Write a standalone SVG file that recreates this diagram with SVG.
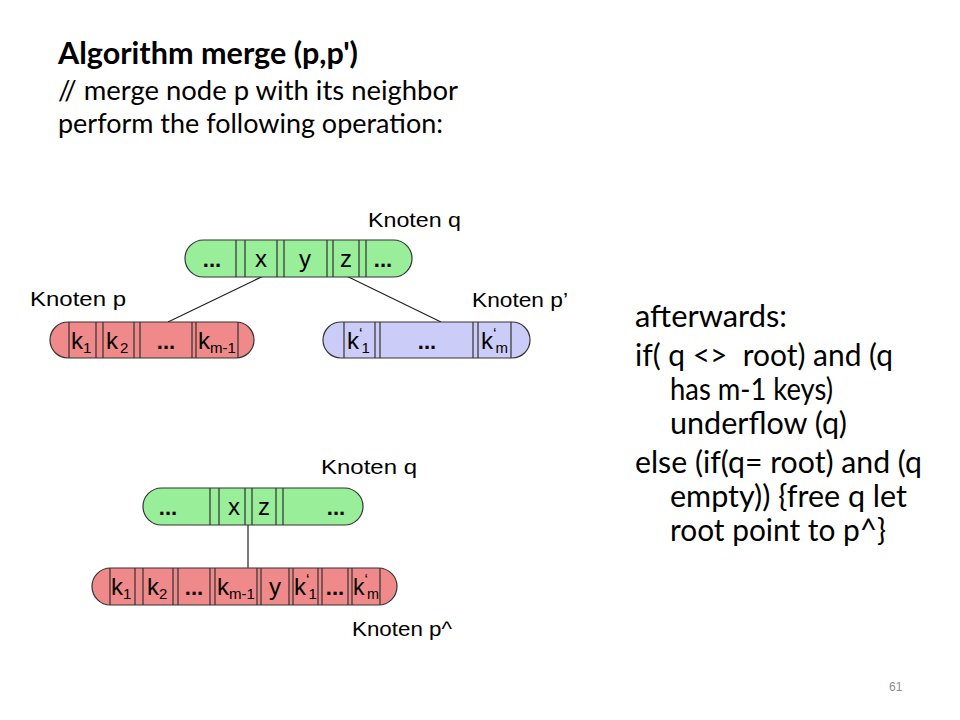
<svg xmlns="http://www.w3.org/2000/svg" width="960" height="720" viewBox="0 0 960 720">
<style>
.bg{fill:#ffffff}
.slide{font-family:Lato,"Open Sans","Liberation Sans",sans-serif;fill:#000}
.ttl{font-size:31px;font-weight:bold}
.sub{font-size:27px}
.body{font-size:30px;white-space:pre}
.lbl{font-family:"Liberation Sans",Arial,sans-serif;font-size:21px;fill:#000}
.nt{font-family:"Liberation Sans",Arial,sans-serif;font-size:24px;fill:#000}
.dots{font-family:"Liberation Sans",Arial,sans-serif;font-size:22px;font-weight:bold;fill:#000;text-anchor:middle}
.mid{text-anchor:middle}
.sm{font-size:15px}
.pr{font-size:16px}
.green{fill:#99ee99;stroke:#333;stroke-width:1.2}
.red{fill:#f08a8a;stroke:#333;stroke-width:1.2}
.blue{fill:#ccccf8;stroke:#333;stroke-width:1.2}
.sep{stroke:#333;stroke-width:1.2;fill:none}
.conn{stroke:#222;stroke-width:1.2;fill:none}
.pg{font-family:"Liberation Sans",Arial,sans-serif;font-size:12px;fill:#8c8c8c}
</style>
<rect class="bg" x="0" y="0" width="960" height="720"/>

<g id="title" class="slide">
<text class="ttl" x="58" y="64" textLength="300" lengthAdjust="spacingAndGlyphs">Algorithm merge (p,p')</text>
<text class="sub" x="58" y="100" textLength="400" lengthAdjust="spacingAndGlyphs">// merge node p with its neighbor</text>
<text class="sub" x="58" y="133" textLength="385" lengthAdjust="spacingAndGlyphs">perform the following operation:</text>
</g>

<g id="text-afterwards" class="slide">
<text class="body" x="635" y="327" textLength="152" lengthAdjust="spacingAndGlyphs">afterwards:</text>
<text class="body" x="635" y="366" textLength="258" lengthAdjust="spacingAndGlyphs">if( q &lt;&gt;  root) and (q</text>
<text class="body" x="670" y="400" textLength="163" lengthAdjust="spacingAndGlyphs">has m-1 keys)</text>
<text class="body" x="670" y="434" textLength="177" lengthAdjust="spacingAndGlyphs">underflow (q)</text>
<text class="body" x="635" y="473" textLength="287" lengthAdjust="spacingAndGlyphs">else (if(q= root) and (q</text>
<text class="body" x="670" y="507" textLength="237" lengthAdjust="spacingAndGlyphs">empty)) {free q let</text>
<text class="body" x="670" y="541" textLength="216" lengthAdjust="spacingAndGlyphs">root point to p^}</text>
</g>

<g id="connectors">
<line class="conn" x1="280" y1="268" x2="168" y2="322"/>
<line class="conn" x1="330" y1="268" x2="441" y2="322"/>
<line class="conn" x1="248" y1="525" x2="248" y2="568"/>
</g>

<g id="node-q">
<rect class="green" x="185" y="240" width="227" height="37" rx="18.5"/>
<path class="sep" d="M236 240V277M245 240V277M277 240V277M284 240V277M327 240V277M333 240V277M359 240V277M366 240V277"/>
<text class="dots" x="212" y="267">...</text>
<text class="nt mid" x="261" y="267">x</text>
<text class="nt mid" x="305" y="267">y</text>
<text class="nt mid" x="346" y="267">z</text>
<text class="dots" x="383" y="267">...</text>
<text class="lbl" x="368" y="227" textLength="93" lengthAdjust="spacingAndGlyphs">Knoten q</text>
</g>

<g id="node-p">
<rect class="red" x="50" y="322" width="204" height="36" rx="18"/>
<path class="sep" d="M69 322V358M96 322V358M103 322V358M134 322V358M140 322V358M192 322V358M196 322V358M238 322V358"/>
<text class="nt" x="71" y="349">k<tspan class="sm" dy="4">1</tspan></text>
<text class="nt" x="106" y="349">k<tspan class="sm" dx="2" dy="4">2</tspan></text>
<text class="dots" x="166" y="349">...</text>
<text class="nt" x="198" y="349" textLength="38" lengthAdjust="spacingAndGlyphs">k<tspan class="sm" dy="4">m-1</tspan></text>
<text class="lbl" x="30" y="306" textLength="96" lengthAdjust="spacingAndGlyphs">Knoten p</text>
</g>

<g id="node-p2">
<rect class="blue" x="323" y="322" width="207" height="36" rx="18"/>
<path class="sep" d="M344 322V358M375 322V358M380 322V358M473 322V358M478 322V358M511 322V358"/>
<text class="nt" x="347" y="349">k<tspan class="pr" dy="-9">‘</tspan><tspan class="sm" dx="-1" dy="13">1</tspan></text>
<text class="dots" x="427" y="349">...</text>
<text class="nt" x="481" y="349">k<tspan class="pr" dy="-9">‘</tspan><tspan class="sm" dx="-1" dy="13">m</tspan></text>
<text class="lbl" x="472" y="307" textLength="96" lengthAdjust="spacingAndGlyphs">Knoten p’</text>
</g>

<g id="node-q-after">
<rect class="green" x="143" y="488" width="220" height="37" rx="18.5"/>
<path class="sep" d="M210 488V525M219 488V525M245 488V525M252 488V525M276 488V525M283 488V525"/>
<text class="dots" x="168" y="515">...</text>
<text class="nt mid" x="234" y="515">x</text>
<text class="nt mid" x="264" y="515">z</text>
<text class="dots" x="336" y="515">...</text>
<text class="lbl" x="321" y="474" textLength="96" lengthAdjust="spacingAndGlyphs">Knoten q</text>
</g>

<g id="node-p-merged">
<rect class="red" x="92" y="568" width="305" height="37" rx="18.5"/>
<path class="sep" d="M110 568V605M135 568V605M143 568V605M173 568V605M178 568V605M210 568V605M215 568V605M257 568V605M261 568V605M289 568V605M293 568V605M318 568V605M322 568V605M348 568V605M352 568V605M380 568V605"/>
<text class="nt" x="111" y="595">k<tspan class="sm" dy="4">1</tspan></text>
<text class="nt" x="147" y="595">k<tspan class="sm" dy="4">2</tspan></text>
<text class="dots" x="194" y="595">...</text>
<text class="nt" x="217" y="595" textLength="38" lengthAdjust="spacingAndGlyphs">k<tspan class="sm" dy="4">m-1</tspan></text>
<text class="nt mid" x="275" y="595">y</text>
<text class="nt" x="294" y="595">k<tspan class="pr" dy="-9">‘</tspan><tspan class="sm" dx="-1" dy="13">1</tspan></text>
<text class="dots" x="335" y="595">...</text>
<text class="nt" x="353" y="595" textLength="26" lengthAdjust="spacingAndGlyphs">k<tspan class="pr" dy="-9">‘</tspan><tspan class="sm" dx="-1" dy="13">m</tspan></text>
<text class="lbl" x="352" y="636" textLength="100" lengthAdjust="spacingAndGlyphs">Knoten p^</text>
</g>

<text class="pg" x="889" y="691">61</text>
</svg>
